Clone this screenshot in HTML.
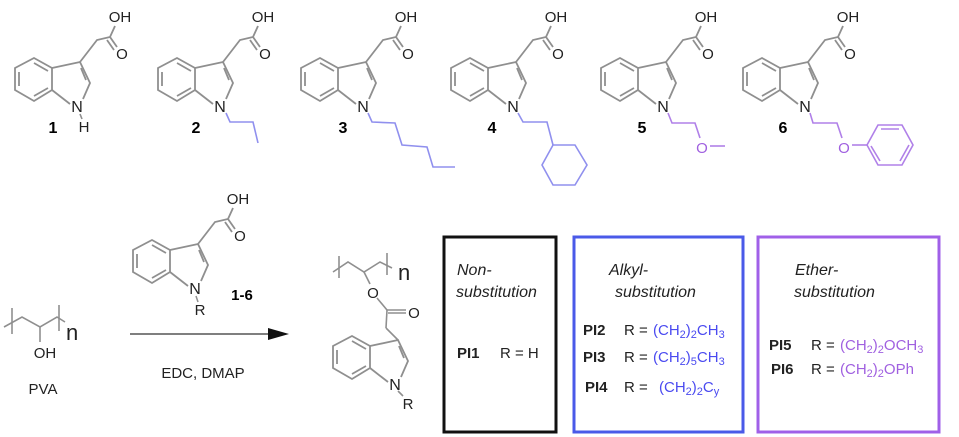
<!DOCTYPE html>
<html><head><style>body{margin:0;background:#fff}svg{display:block}</style></head><body>
<svg width="959" height="437" viewBox="0 0 959 437" xmlns="http://www.w3.org/2000/svg" font-family="Liberation Sans, sans-serif">
<defs>
<g id="ring" fill="none" stroke="#8f8f8f" stroke-width="1.8">
<polygon points="34,58 52,68 52,90 34,101 15,90 15,68"/>
<line x1="19" y1="72" x2="19" y2="86"/><line x1="34" y1="63" x2="48" y2="71"/><line x1="34" y1="96" x2="48" y2="88"/>
<polyline points="52,68 80,62 90,83 83,99"/><line x1="70" y1="104" x2="52" y2="90"/>
<line x1="81" y1="68" x2="86" y2="80"/>
</g>
<g id="ind">
<use href="#ring"/>
<g fill="none" stroke="#8f8f8f" stroke-width="1.8">
<polyline points="80,62 97,40 110,37 115,26"/>
<line x1="110" y1="37" x2="117" y2="47"/><line x1="107" y1="40" x2="114" y2="50"/>
</g>
</g>
<g id="indt">
<use href="#ind"/>
<text x="77" y="112" font-size="16" text-anchor="middle" fill="#222">N</text>
<text x="120" y="22" font-size="15" text-anchor="middle" fill="#222">OH</text>
<text x="122" y="59" font-size="15" text-anchor="middle" fill="#222">O</text>
</g>
</defs>
<!-- top row -->
<use href="#indt"/>
<line x1="80" y1="114" x2="82" y2="119" stroke="#8f8f8f" stroke-width="1.6"/>
<text x="84" y="132" font-size="15" text-anchor="middle" fill="#222">H</text>
<text x="53" y="133" font-size="16" font-weight="bold" text-anchor="middle">1</text>

<use href="#indt" x="143"/>
<text x="196" y="133" font-size="16" font-weight="bold" text-anchor="middle">2</text>
<polyline points="226,113 230,122 253,122 258,143" fill="none" stroke="#9090ee" stroke-width="1.6"/>

<use href="#indt" x="286"/>
<text x="343" y="133" font-size="16" font-weight="bold" text-anchor="middle">3</text>
<polyline points="368,113 372,122 395,123 402,145 427,147 433,167 455,167" fill="none" stroke="#9090ee" stroke-width="1.6"/>

<use href="#indt" x="436"/>
<text x="492" y="133" font-size="16" font-weight="bold" text-anchor="middle">4</text>
<polyline points="518,113 523,122 547,122 553,145" fill="none" stroke="#9090ee" stroke-width="1.6"/>
<polygon points="553,145 575,145 587,165 575,185 553,185 542,165" fill="none" stroke="#9090ee" stroke-width="1.6"/>

<use href="#indt" x="586"/>
<text x="642" y="133" font-size="16" font-weight="bold" text-anchor="middle">5</text>
<polyline points="668,113 672,123 695,123 700,138" fill="none" stroke="#b080e8" stroke-width="1.6"/>
<text x="702" y="153" font-size="15" text-anchor="middle" fill="#a060e0">O</text>
<line x1="710" y1="146" x2="725" y2="146" stroke="#b080e8" stroke-width="1.6"/>

<use href="#indt" x="728"/>
<text x="783" y="133" font-size="16" font-weight="bold" text-anchor="middle">6</text>
<polyline points="810,113 813,123 837,123 842,138" fill="none" stroke="#b080e8" stroke-width="1.6"/>
<text x="844" y="153" font-size="15" text-anchor="middle" fill="#a060e0">O</text>
<line x1="852" y1="145" x2="867" y2="145" stroke="#b080e8" stroke-width="1.6"/>
<polygon points="867,145 878,125 902,125 913,145 902,165 878,165" fill="none" stroke="#b080e8" stroke-width="1.6"/>
<g stroke="#b080e8" stroke-width="1.6"><line x1="881" y1="129" x2="899" y2="129"/><line x1="909" y1="145" x2="900" y2="161"/><line x1="880" y1="161" x2="871" y2="146"/></g>

<!-- PVA -->
<g fill="none" stroke="#8f8f8f" stroke-width="1.6">
<polyline points="4,327 22,317 40,327 57,317 65,322"/>
<line x1="12" y1="308" x2="12" y2="334"/><line x1="59" y1="305" x2="59" y2="331"/>
<line x1="40" y1="327" x2="40" y2="342"/>
</g>
<text x="66" y="340" font-size="22" fill="#222">n</text>
<text x="45" y="358" font-size="15" text-anchor="middle" fill="#222">OH</text>
<text x="43" y="394" font-size="15" text-anchor="middle" fill="#222">PVA</text>

<!-- reagent -->
<use href="#indt" x="118" y="182"/>
<line x1="196" y1="296" x2="198" y2="302" stroke="#8f8f8f" stroke-width="1.5"/>
<text x="200" y="315" font-size="15" text-anchor="middle" fill="#222">R</text>
<text x="242" y="300" font-size="15" font-weight="bold" text-anchor="middle">1-6</text>

<!-- arrow -->
<line x1="130" y1="334" x2="272" y2="334" stroke="#555" stroke-width="1.6"/>
<polygon points="268,328 289,334 268,340" fill="#111"/>
<text x="203" y="378" font-size="15" text-anchor="middle" fill="#222">EDC, DMAP</text>

<!-- product -->
<g fill="none" stroke="#8f8f8f" stroke-width="1.6">
<polyline points="333,272 348,262 364,272 380,262 392,268"/>
<line x1="339" y1="256" x2="339" y2="278"/><line x1="387" y1="253" x2="387" y2="275"/>
<line x1="364" y1="272" x2="370" y2="284"/>
<line x1="377" y1="298" x2="387" y2="310"/>
<line x1="387" y1="310" x2="406" y2="310"/><line x1="388" y1="313" x2="406" y2="313"/>
<line x1="387" y1="310" x2="386" y2="328"/>
</g>
<text x="398" y="280" font-size="22" fill="#222">n</text>
<text x="373" y="298" font-size="15" text-anchor="middle" fill="#222">O</text>
<text x="414" y="318" font-size="15" text-anchor="middle" fill="#222">O</text>
<g transform="translate(318,278)">
<use href="#ring"/>
<line x1="80" y1="62" x2="68" y2="50" stroke="#8f8f8f" stroke-width="1.6"/>
<line x1="80" y1="113" x2="85" y2="118" stroke="#8f8f8f" stroke-width="1.6"/>
<text x="77" y="112" font-size="16" text-anchor="middle" fill="#222">N</text>
<text x="90" y="131" font-size="15" text-anchor="middle" fill="#222">R</text>
</g>

<!-- boxes -->
<rect x="444" y="237" width="112" height="195" fill="none" stroke="#111" stroke-width="3"/>
<rect x="574" y="237" width="169" height="195" fill="none" stroke="#4a5ae8" stroke-width="3"/>
<rect x="758" y="237" width="181" height="195" fill="none" stroke="#a060e8" stroke-width="3"/>
<g font-size="16" font-style="italic" fill="#222">
<text x="457" y="275">Non-</text><text x="456" y="297">substitution</text>
<text x="609" y="275">Alkyl-</text><text x="615" y="297">substitution</text>
<text x="795" y="275">Ether-</text><text x="794" y="297">substitution</text>
</g>
<g font-size="15" fill="#222">
<text x="457" y="358" font-weight="bold">PI1</text><text x="500" y="358">R = H</text>
<text x="583" y="335" font-weight="bold">PI2</text><text x="624" y="335">R =</text>
<text x="583" y="362" font-weight="bold">PI3</text><text x="624" y="362">R =</text>
<text x="585" y="392" font-weight="bold">PI4</text><text x="624" y="392">R =</text>
<text x="769" y="350" font-weight="bold">PI5</text><text x="811" y="350">R =</text>
<text x="771" y="374" font-weight="bold">PI6</text><text x="811" y="374">R =</text>
</g>
<g font-size="15" fill="#4a4af0">
<text x="653" y="335">(CH<tspan font-size="11" dy="3">2</tspan><tspan dy="-3">)</tspan><tspan font-size="11" dy="3">2</tspan><tspan dy="-3">CH</tspan><tspan font-size="11" dy="3">3</tspan></text>
<text x="653" y="362">(CH<tspan font-size="11" dy="3">2</tspan><tspan dy="-3">)</tspan><tspan font-size="11" dy="3">5</tspan><tspan dy="-3">CH</tspan><tspan font-size="11" dy="3">3</tspan></text>
<text x="659" y="392">(CH<tspan font-size="11" dy="3">2</tspan><tspan dy="-3">)</tspan><tspan font-size="11" dy="3">2</tspan><tspan dy="-3">C</tspan><tspan font-size="11" dy="3">y</tspan></text>
</g>
<g font-size="15" fill="#a060e0">
<text x="840" y="350">(CH<tspan font-size="11" dy="3">2</tspan><tspan dy="-3">)</tspan><tspan font-size="11" dy="3">2</tspan><tspan dy="-3">OCH</tspan><tspan font-size="11" dy="3">3</tspan></text>
<text x="840" y="374">(CH<tspan font-size="11" dy="3">2</tspan><tspan dy="-3">)</tspan><tspan font-size="11" dy="3">2</tspan><tspan dy="-3">OPh</tspan></text>
</g>
</svg>
</body></html>
